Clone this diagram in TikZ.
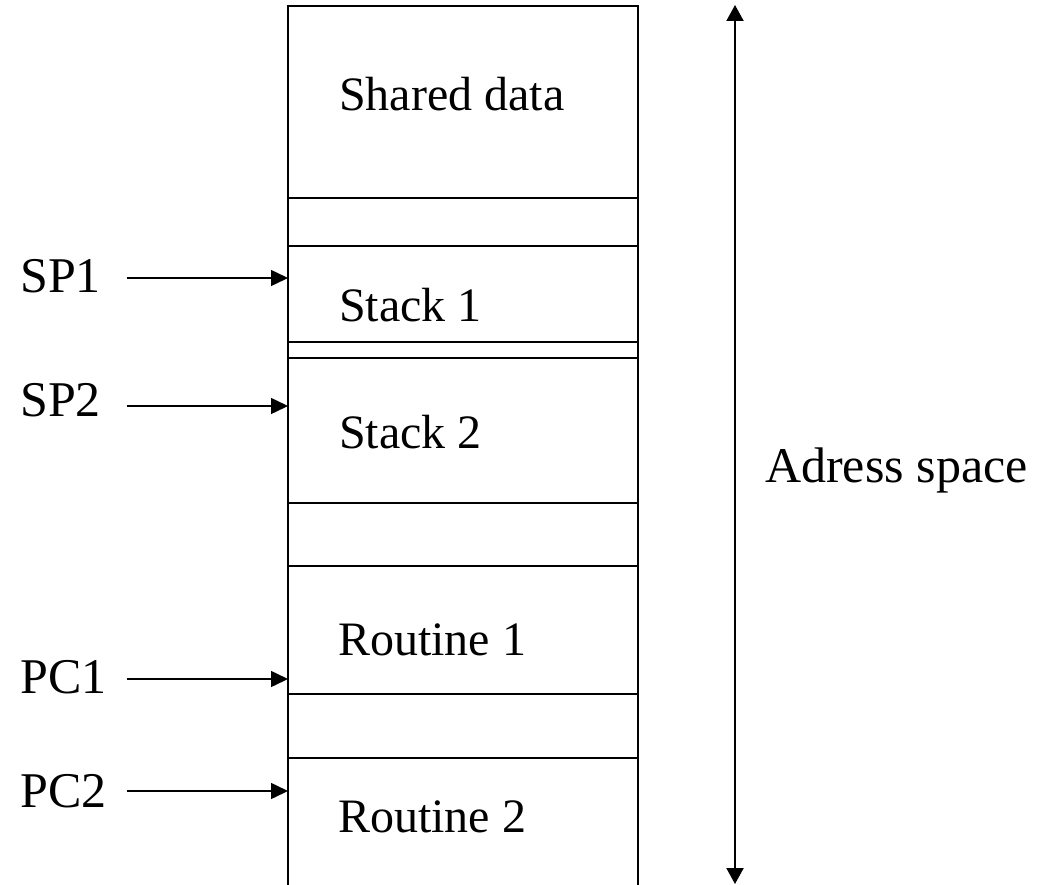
\documentclass[tikz,border=0pt]{standalone}
\usepackage{fontspec}
\setmainfont{Liberation Serif}
\usetikzlibrary{calc}
\usetikzlibrary{arrows.meta}
\begin{document}
\begin{tikzpicture}[x=1pt,y=-1pt,
  inbox/.style={anchor=base west, inner sep=0, font=\fontsize{48}{56}\selectfont},
  outlbl/.style={anchor=base west, inner sep=0, font=\fontsize{50}{58}\selectfont},
  ptr/.style={black, line width=1.5pt, -{Triangle[length=17pt,width=16pt]}}]
\useasboundingbox (0,0) rectangle (1041,885);
% memory column, open at the bottom
\coordinate (colTL) at (288,6);
\coordinate (colTR) at (638,6);
\draw[line width=2pt] (288,885) -- (colTL) -- (colTR) -- (638,885);
\foreach \y in {198,246,342,358,503,566,694,758} {
  \draw[line width=2pt] (288,\y) -- (638,\y);
}
% contents
\node[inbox] (shared) at (339,111) {Shared data};
\node[inbox] (stack1) at (339,321) {Stack 1};
\node[inbox] (stack2) at (339,448) {Stack 2};
\node[inbox] (rout1)  at (338,655) {Routine 1};
\node[inbox] (rout2)  at (338,832) {Routine 2};
% pointers
\foreach \name/\txt/\yb/\ya in {sp1/SP1/293/278, sp2/SP2/416/406, pc1/PC1/693/679, pc2/PC2/807/791} {
  \node[outlbl] (\name) at (20,\yb) {\txt};
  \coordinate (\name tail) at (127,\ya);
  \coordinate (\name head) at (288,\ya);
  \draw[ptr] (\name tail) -- (\name head);
}
% address space extent
\coordinate (asTop) at (735,5);
\coordinate (asBot) at (735,884);
\draw[ptr, line width=2pt, {Triangle[length=16pt,width=17pt]}-{Triangle[length=16pt,width=17pt]}] (asBot) -- (asTop);
\node[outlbl] (adr) at (765,482) {Adress space};
\end{tikzpicture}
\end{document}
